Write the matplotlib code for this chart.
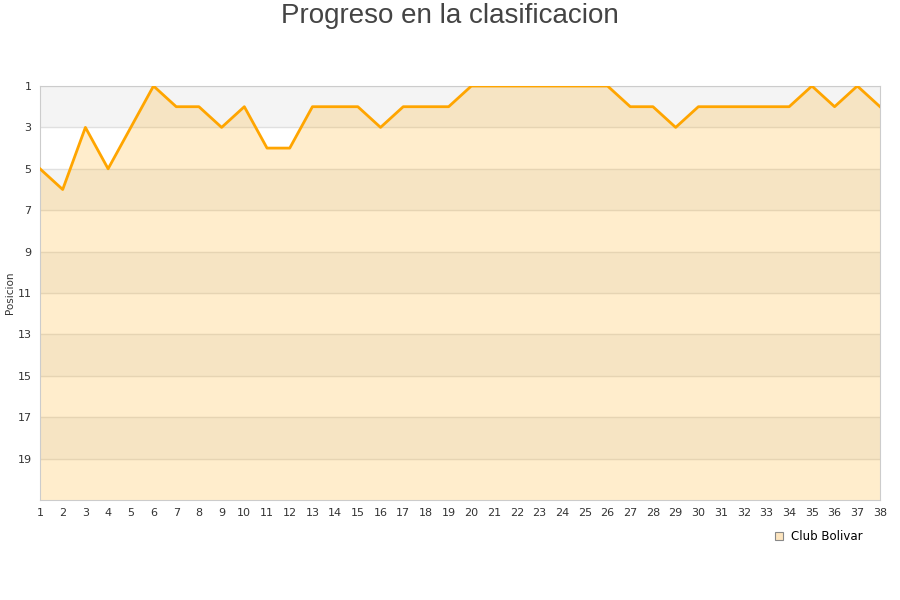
import matplotlib.pyplot as plt
import numpy as np

rounds = list(range(1, 39))
positions = [5, 6, 3, 5, 3, 1, 2, 2, 3, 2,
             4, 4, 2, 2, 2, 3, 2, 2, 2, 1,
             1, 1, 1, 1, 1, 1, 2, 2, 3, 2,
             2, 2, 2, 2, 1, 2, 1, 2]
y_ticks = list(range(1, 20, 2))
team = 'Club Bolivar'

fig = plt.figure(figsize=(9, 6), dpi=100)
ax = fig.add_axes([40/900, 1 - 500/600, 840/900, 414/600])

# alternating background bands
for i, lo in enumerate(range(1, 21, 2)):
    color = '#f4f4f4' if i % 2 == 0 else 'white'
    ax.axhspan(lo, lo + 2, color=color, zorder=0, lw=0)
for t in y_ticks:
    ax.axhline(t, color='#e0e0e0', lw=1, zorder=1)

ax.fill_between(rounds, positions, 21, color='#ffa500', alpha=0.2, lw=0, zorder=2)
ax.plot(rounds, positions, color='#ffa500', lw=2, zorder=3)

ax.set_xlim(1, 38)
ax.set_ylim(21, 1)
ax.set_xticks(rounds)
ax.set_yticks(y_ticks)
ax.tick_params(length=0, labelsize=8, colors='#333333', pad=6)
for s in ax.spines.values():
    s.set_color('#cccccc')
fig.text(10/900, 1 - 293/600, 'Posicion', rotation=90, ha='center', va='center',
         fontsize=7.5, color='#333333')

fig.text(0.5, 1 - 16/600, 'Progreso en la clasificacion', ha='center', va='center',
         fontsize=20, color='#444444', family='Liberation Sans')

h = plt.Line2D([], [], marker='s', ls='', markersize=6, markerfacecolor='#fde5bf',
               markeredgecolor='#888888', markeredgewidth=0.8)
fig.legend([h], [team], loc='center right', bbox_to_anchor=(0.97, 1 - 537/600),
           frameon=False, fontsize=8.5, handletextpad=0.5, handlelength=1)

fig.savefig('out.png', dpi=100)
